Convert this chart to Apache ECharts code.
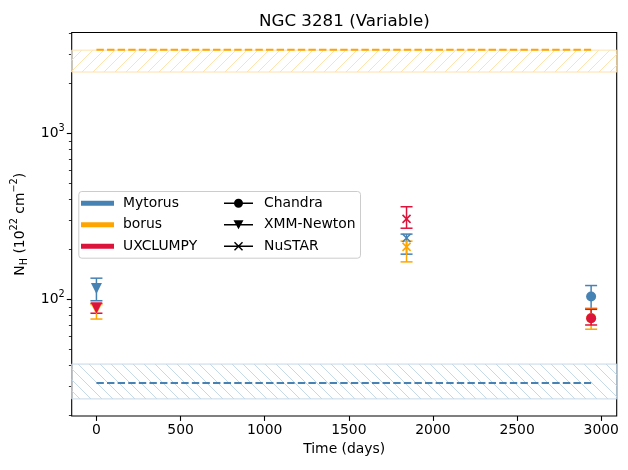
<!DOCTYPE html>
<html>
<head>
<meta charset="utf-8">
<script src="https://cdn.jsdelivr.net/npm/echarts@6/dist/echarts.min.js"></script>
<style>html,body{margin:0;padding:0;background:#fff;}#c{width:628px;height:470px;}</style>
</head>
<body>
<div id="c"></div>
<script>
// ---- data ----
const days = [0, 1843, 2940];
const observatories = ['XMM-Newton', 'NuSTAR', 'Chandra'];
const mytorusNH = [116, 234, 104];
const mytorusLo = [98, 187, 88];
const mytorusHi = [134, 247, 121];
const borusNH = [87, 207, 77];
const borusLo = [76, 168, 66];
const borusHi = [93, 224, 88];
const uxclumpyNH = [88.7, 305, 76.9];
const uxclumpyLo = [82.4, 268, 70];
const uxclumpyHi = [94.6, 361, 87];
const mytorusAvg = 31.3;
const mytorusBand = [25.1, 40.7];
const borusAvg = 3190;
const borusBand = [2340, 3170];
const avgSpan = [0, 2940];
const xTicks = [0, 500, 1000, 1500, 2000, 2500, 3000];
const yMajorTicks = [100, 1000];
const yMinorTicks = [20, 30, 40, 50, 60, 70, 80, 90, 200, 300, 400, 500, 600, 700, 800, 900, 2000, 3000, 4000];
const xRange = [-147, 3092];
const yRange = [19.8, 4050];

// ---- styles ----
const C_MY = '#4682B4', C_BO = '#FFA500', C_UX = '#DC143C';
const FONT = 'DejaVu Sans';
const XPATH = 'path://M0,0L10,10M10,0L0,10';

function hatch(color, forward) {
  const s = 11;
  const cv = document.createElement('canvas');
  cv.width = s; cv.height = s;
  const ctx = cv.getContext('2d');
  ctx.strokeStyle = color; ctx.lineWidth = 1;
  ctx.beginPath();
  if (forward) {
    ctx.moveTo(-1, s + 1); ctx.lineTo(s + 1, -1);
    ctx.moveTo(-2, 2); ctx.lineTo(2, -2);
    ctx.moveTo(s - 2, s + 2); ctx.lineTo(s + 2, s - 2);
  } else {
    ctx.moveTo(-1, -1); ctx.lineTo(s + 1, s + 1);
    ctx.moveTo(s - 2, -2); ctx.lineTo(s + 2, 2);
    ctx.moveTo(-2, s - 2); ctx.lineTo(2, s + 2);
  }
  ctx.stroke();
  return cv;
}

function markerItem(i, vals, color) {
  const obs = observatories[i];
  const item = { value: [days[i], vals[i]] };
  if (obs === 'Chandra') { item.symbol = 'circle'; item.symbolSize = 10; }
  else if (obs === 'XMM-Newton') { item.symbol = 'triangle'; item.symbolSize = 11; item.symbolRotate = 180; }
  else {
    item.symbol = XPATH; item.symbolSize = 8;
    item.itemStyle = { color: 'rgba(0,0,0,0)', borderColor: color, borderWidth: 1.6 };
  }
  return item;
}

function errSeries(name, lo, hi, color) {
  return {
    type: 'custom', name: name, z: 3,
    data: days.map((d, i) => [d, lo[i], hi[i]]),
    encode: { x: 0, y: [1, 2] },
    renderItem: function (params, api) {
      const x = api.value(0);
      const p0 = api.coord([x, api.value(1)]);
      const p1 = api.coord([x, api.value(2)]);
      const hw = 6;
      const st = { stroke: color, lineWidth: 1.5 };
      return { type: 'group', children: [
        { type: 'line', shape: { x1: p0[0], y1: p0[1], x2: p1[0], y2: p1[1] }, style: st },
        { type: 'line', shape: { x1: p0[0] - hw, y1: p0[1], x2: p0[0] + hw, y2: p0[1] }, style: st },
        { type: 'line', shape: { x1: p1[0] - hw, y1: p1[1], x2: p1[0] + hw, y2: p1[1] }, style: st }
      ]};
    }
  };
}

function markerSeries(name, vals, color) {
  return {
    type: 'scatter', name: name, z: 4,
    itemStyle: { color: color, opacity: 1 },
    data: days.map((d, i) => markerItem(i, vals, color))
  };
}

function bandSeries(name, band, color, forward) {
  const img = hatch(color, forward);
  return {
    type: 'custom', name: name, z: 1,
    data: [[avgSpan[0], band[0], band[1]]],
    encode: { x: 0, y: [1, 2] },
    renderItem: function (params, api) {
      const cs = params.coordSys;
      const y0 = api.coord([0, api.value(1)])[1];
      const y1 = api.coord([0, api.value(2)])[1];
      return { type: 'rect',
        shape: { x: cs.x, y: Math.min(y0, y1), width: cs.width, height: Math.abs(y0 - y1) },
        style: { fill: { image: img, repeat: 'repeat' }, stroke: color, lineWidth: 1 } };
    }
  };
}

function avgSeries(name, v, color) {
  return {
    type: 'line', name: name, z: 2, symbol: 'none', silent: true,
    data: [[avgSpan[0], v], [avgSpan[1], v]],
    lineStyle: { color: color, width: 2, type: [7.4, 3.2] }
  };
}

function dummy(name, color) {
  return { type: 'line', name: name, data: [], itemStyle: { color: color }, lineStyle: { color: color } };
}

const chart = echarts.init(document.getElementById('c'), null, { renderer: 'canvas' });
chart.setOption({
  animation: false,
  backgroundColor: '#fff',
  textStyle: { fontFamily: FONT },
  title: {
    text: 'NGC 3281 (Variable)', left: 254, top: 8,
    textStyle: { fontFamily: FONT, fontSize: 16.7, fontWeight: 'normal', color: '#000' }
  },
  grid: { left: 71.7, right: 11.3, top: 32.5, bottom: 54, show: true, borderColor: '#000', borderWidth: 1.1, backgroundColor: 'transparent' },
  xAxis: {
    type: 'value', min: xRange[0], max: xRange[1],
    name: 'Time (days)', nameLocation: 'middle', nameGap: 26,
    nameTextStyle: { fontFamily: FONT, fontSize: 13.9, color: '#000' },
    axisLine: { show: false, onZero: false },
    splitLine: { show: false },
    axisTick: { show: true, length: 4.9, lineStyle: { color: '#000', width: 1.1 }, customValues: xTicks },
    axisLabel: { customValues: xTicks, margin: 7, fontFamily: FONT, fontSize: 13.9, color: '#000',
      formatter: function (v) { return String(v); } }
  },
  yAxis: [{
    type: 'log', logBase: 10, min: yRange[0], max: yRange[1],
    name: '{n|N}{sub|H}{n| (10}{sup|22}{n| cm}{sup|\u22122}{n|)}',
    nameLocation: 'middle', nameGap: 40, nameRotate: 90,
    nameTextStyle: { fontFamily: FONT, fontSize: 13.9, color: '#000',
      rich: {
        n: { fontFamily: FONT, fontSize: 13.9, color: '#000', lineHeight: 20 },
        sub: { fontFamily: FONT, fontSize: 9.7, color: '#000', lineHeight: 10, verticalAlign: 'bottom' },
        sup: { fontFamily: FONT, fontSize: 9.7, color: '#000', lineHeight: 10, verticalAlign: 'top' }
      } },
    axisLine: { show: false, onZero: false },
    splitLine: { show: false },
    axisTick: { show: true, length: 4.9, lineStyle: { color: '#000', width: 1.1 }, customValues: yMajorTicks },
    axisLabel: {
      customValues: yMajorTicks, margin: 7, fontFamily: FONT, fontSize: 13.9, color: '#000',
      formatter: function (v) { return '{n|10}{sup|' + Math.round(Math.log10(v)) + '}'; },
      rich: {
        n: { fontFamily: FONT, fontSize: 13.9, color: '#000', lineHeight: 20 },
        sup: { fontFamily: FONT, fontSize: 9.7, color: '#000', lineHeight: 10, verticalAlign: 'top' }
      }
    }
  }, {
    type: 'log', logBase: 10, min: yRange[0], max: yRange[1], position: 'left', offset: 0,
    axisLine: { show: false, onZero: false }, splitLine: { show: false }, axisLabel: { show: false },
    axisTick: { show: true, length: 2.8, lineStyle: { color: '#000', width: 0.8 }, customValues: yMinorTicks }
  }],
  legend: [{
    orient: 'vertical', left: 81, top: 195.3, padding: 0, itemGap: 5.5,
    itemWidth: 33, itemHeight: 5, z: 10,
    textStyle: { fontFamily: FONT, fontSize: 13.9, color: '#000', lineHeight: 16, padding: [0, 0, 0, 4] },
    data: [
      { name: 'Mytorus', icon: 'rect', itemStyle: { color: C_MY } },
      { name: 'borus', icon: 'rect', itemStyle: { color: C_BO } },
      { name: 'UXCLUMPY', icon: 'rect', itemStyle: { color: C_UX } }
    ]
  }, {
    orient: 'vertical', left: 224, top: 195.3, padding: 0, itemGap: 5.5,
    itemWidth: 29, itemHeight: 9, z: 10,
    textStyle: { fontFamily: FONT, fontSize: 13.9, color: '#000', lineHeight: 16, padding: [0, 0, 0, 6] },
    data: [
      { name: 'Chandra', icon: 'path://M0,3.75H29V5.25H0Z M19,4.5A4.5,4.5 0 1 1 10,4.5A4.5,4.5 0 1 1 19,4.5Z', itemStyle: { color: '#000' } },
      { name: 'XMM-Newton', icon: 'path://M0,3.75H29V5.25H0Z M9.5,0H19.5L14.5,9Z', itemStyle: { color: '#000' } },
      { name: 'NuSTAR', icon: 'path://M0,3.75H29V5.25H0Z M10,1L11,0L19,8L18,9Z M18,0L19,1L11,9L10,8Z', itemStyle: { color: '#000' } }
    ]
  }],
  graphic: [{
    type: 'rect', z: 9, left: 78.3, top: 191,
    shape: { width: 281.7, height: 66.7, r: 3 },
    style: { fill: 'rgba(255,255,255,0.8)', stroke: '#cccccc', lineWidth: 1 }
  }],
  series: [
    dummy('Mytorus', C_MY), dummy('borus', C_BO), dummy('UXCLUMPY', C_UX),
    dummy('Chandra', '#000'), dummy('XMM-Newton', '#000'), dummy('NuSTAR', '#000'),
    bandSeries('Mytorus band', mytorusBand, '#C6D9E8', false),
    bandSeries('borus band', borusBand, '#FFE2AE', true),
    avgSeries('Mytorus average', mytorusAvg, C_MY),
    avgSeries('borus average', borusAvg, C_BO),
    errSeries('Mytorus errors', mytorusLo, mytorusHi, C_MY),
    markerSeries('Mytorus fit', mytorusNH, C_MY),
    errSeries('borus errors', borusLo, borusHi, C_BO),
    markerSeries('borus fit', borusNH, C_BO),
    errSeries('UXCLUMPY errors', uxclumpyLo, uxclumpyHi, C_UX),
    markerSeries('UXCLUMPY fit', uxclumpyNH, C_UX)
  ]
});
</script>
</body>
</html>
